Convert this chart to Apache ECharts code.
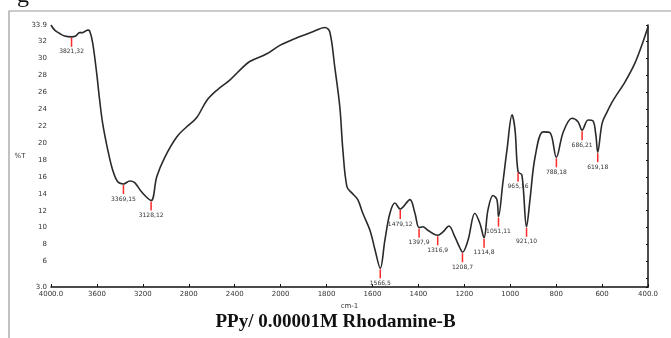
<!DOCTYPE html>
<html><head><meta charset="utf-8">
<script src="https://cdn.jsdelivr.net/npm/echarts@6/dist/echarts.min.js"></script>
<style>html,body{margin:0;padding:0;background:#fff;overflow:hidden}#c{width:671px;height:338px}</style>
</head><body><div id="c"></div>
<script>
// Spectrum (wavenumber in cm-1, %T)
const wavenumber = [4000,3968,3924,3881,3821,3785,3750,3724,3698,3680,3663,3637,3602,3576,3550,3506,3463,3419,3369,3314,3271,3210,3128,3079,3009,2905,2818,2730,2643,2556,2443,2330,2269,2120,2007,1929,1860,1807,1786,1764,1742,1729,1711,1690,1664,1642,1611,1589,1566,1546,1524,1502,1479,1437,1415,1397,1380,1359,1316,1293,1267,1241,1219,1208,1184,1154,1132,1114,1097,1075,1058,1051,1032,1014,992,979,966,949,929,914,892,857,827,799,770,731,705,687,661,640,627,619,600,579,552,500,457,422,400];
const transmittance = [33.9,33.3,32.9,32.6,32.5,32.6,33.0,33.0,33.2,33.3,33.2,31.8,28.2,25.0,22.3,19.2,16.8,15.4,15.15,15.5,15.3,14.2,13.2,16.0,18.3,20.7,21.9,23.0,25.0,26.2,27.4,28.9,29.6,30.5,31.5,32.4,33.1,33.6,33.1,28.9,24.2,19.2,14.8,14.1,13.3,11.7,9.7,7.4,5.2,8.5,11.7,12.9,12.2,13.3,11.7,10.0,10.1,9.7,9.1,9.5,10.2,8.9,7.6,7.1,8.5,11.7,10.5,8.8,12.1,13.8,13.3,11.3,15.3,19.2,23.3,21.5,16.6,16.2,10.1,13.3,18.3,21.3,21.2,18.3,21.2,22.9,22.5,21.5,22.7,22.6,20.9,18.9,22.3,23.6,25.0,27.2,29.4,31.9,33.7];

// Peak picks
const peakWn = [3821,3369,3128,1566,1479,1397,1316,1208,1114,1051,966,929,799,687,619];
const peakT = [32.5,15.15,13.2,5.2,12.2,10.0,9.1,7.1,8.8,11.3,16.6,10.1,18.3,21.5,18.9];
const peakText = ['3821,32','3369,15','3128,12','1566,5','1479,12','1397,9','1316,9','1208,7','1114,8','1051,11','965,16','921,10','788,18','686,21','619,18'];

// Axis ticks
const xTickWn = [4000,3600,3200,2800,2400,2000,1800,1600,1400,1200,1000,800,600,400];
const xTickText = ['4000.0','3600','3200','2800','2400','2000','1800','1600','1400','1200','1000','800','600','400.0'];
const yTickVal = [3,4,6,8,10,12,14,16,18,20,22,24,26,28,30,32,33.9];
const yTickText = ['3.0','','6','8','10','12','14','16','18','20','22','24','26','28','30','32','33.9'];

// Instrument axis: scale doubles below 2000 cm-1
function toU(w){ return w >= 2000 ? 1600 + (w - 2000) / 2 : w - 400; }

const lineData = wavenumber.map((w, i) => [toU(w), transmittance[i]]);
const peakData = peakWn.map((w, i) => [toU(w), peakT[i]]);
const xTickU = xTickWn.map(toU);

const chart = echarts.init(document.getElementById('c'), null, {renderer: 'canvas'});
chart.setOption({
  animation: false,
  backgroundColor: '#fff',
  grid: {left: 51, right: 23, top: 25, bottom: 51},
  xAxis: {
    type: 'value', inverse: true, min: 0, max: 2600,
    name: 'cm-1', nameLocation: 'middle', nameGap: 16,
    nameTextStyle: {fontSize: 7, color: '#333', fontFamily: 'DejaVu Sans'},
    splitLine: {show: false},
    axisLine: {lineStyle: {color: '#111', width: 1.5}},
    axisTick: {customValues: xTickU, length: 3, inside: true, lineStyle: {color: '#111'}},
    axisLabel: {customValues: xTickU, fontSize: 7, color: '#333', fontFamily: 'DejaVu Sans', margin: 4,
      formatter: v => { const i = xTickU.findIndex(u => Math.abs(u - v) < 0.5); return i >= 0 ? xTickText[i] : ''; }}
  },
  yAxis: {
    type: 'value', min: 3, max: 33.9,
    name: '%T', nameLocation: 'middle', nameGap: 20, nameRotate: 0,
    nameTextStyle: {fontSize: 7, color: '#333', fontFamily: 'DejaVu Sans'},
    splitLine: {show: false},
    axisLine: {show: true, lineStyle: {color: '#111', width: 1.5}},
    axisTick: {show: true, customValues: yTickVal, length: 2, lineStyle: {color: '#111'}},
    axisLabel: {customValues: yTickVal, fontSize: 7, color: '#333', fontFamily: 'DejaVu Sans', margin: 4,
      formatter: v => { const i = yTickVal.findIndex(t => Math.abs(t - v) < 0.01); return i >= 0 ? yTickText[i] : ''; }}
  },
  graphic: [
    {type: 'rect', shape: {x: 9, y: 11, width: 720, height: 400}, style: {fill: 'none', stroke: '#9a9a9a', lineWidth: 1.2}, silent: true},
    {type: 'text', left: 17, top: -16, style: {text: 'g', font: '24px "Liberation Serif"', fill: '#111'}},
    {type: 'text', left: 'center', top: 313, style: {text: 'PPy/ 0.00001M Rhodamine-B', font: 'bold 19px "Liberation Serif"', fill: '#111'}}
  ],
  series: [
    {type: 'line', data: lineData, showSymbol: false, smooth: 0.35,
      lineStyle: {color: '#2a2a2a', width: 1.6}, z: 3},
    {type: 'custom', data: peakData, z: 4,
      renderItem: (params, api) => {
        const p = api.coord([api.value(0), api.value(1)]);
        return {type: 'group', children: [
          {type: 'line', shape: {x1: p[0], y1: p[1] + 1, x2: p[0], y2: p[1] + 10}, style: {stroke: '#ff2a2a', lineWidth: 1.5}},
          {type: 'text', x: p[0], y: p[1] + 12, style: {text: peakText[params.dataIndex], fill: '#333', font: '6px "DejaVu Sans"', align: 'center', verticalAlign: 'top'}}
        ]};
      }}
  ]
});
</script></body></html>
